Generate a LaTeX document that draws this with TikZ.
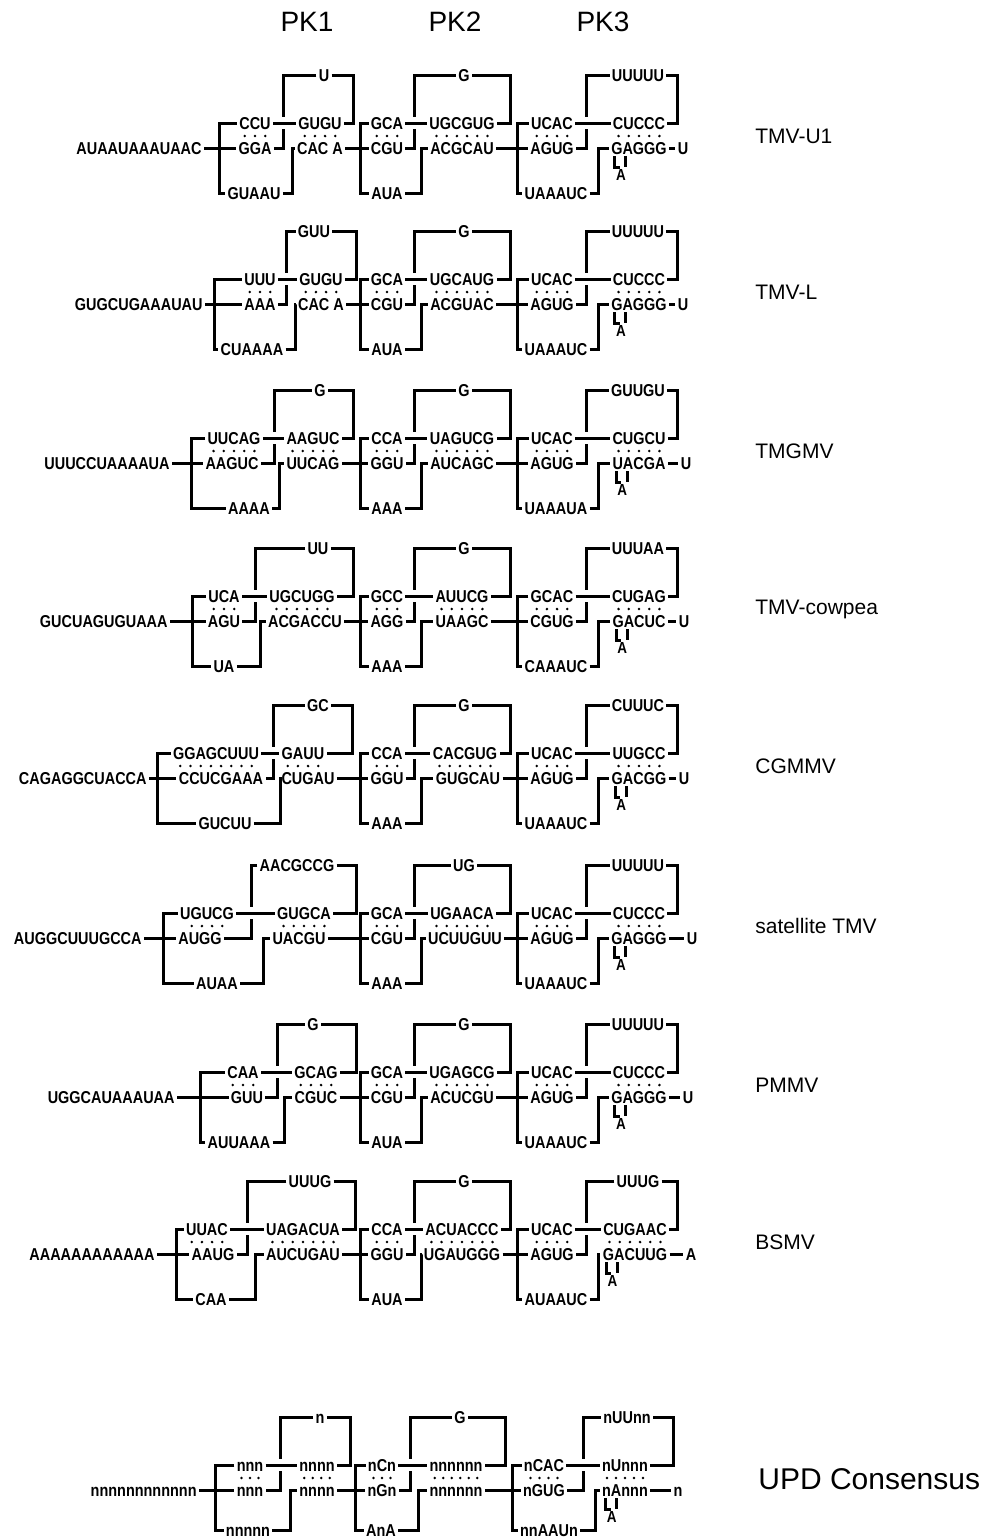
\documentclass[tikz,border=0pt]{standalone}
\usepackage{fontspec}
\setmainfont{Liberation Sans}
\newfontfamily\seqfont[FakeStretch=0.84]{Liberation Sans}
\usetikzlibrary{positioning}

% keys of one pseudoknot (PK2 and PK3 sit at the same place in every row)
\pgfkeys{/pk/.cd,
  y/.initial=0, low/.initial=45, xb/.initial=0, v1/.initial=0, v2/.initial=0, v3/.initial=0,
  c1/.initial=0, c1p/.initial=\pgfkeysvalueof{/pk/c1},
  c2/.initial=0, c2p/.initial=\pgfkeysvalueof{/pk/c2},
  cl/.initial=0, cw/.initial=0,
  na/.initial=3, nb/.initial=4, pitch/.initial=10.2, bulge/.initial=0,
  a/.initial=, ap/.initial=, l/.initial=, b/.initial=, bp/.initial=, w/.initial=,
  second/.style={xb=360, v1=414, v2=510, v3=421, c1=387, c2=462, cl=464, cw=387, na=3, nb=6},
  third/.style={xb=517, v1=586, v2=677, v3=598, c1=552, c2=639, cl=638, cw=556, na=4, nb=5, bulge=1}}
\newcommand{\pkv}[1]{\pgfkeysvalueof{/pk/#1}}

\newcommand{\pknot}[2]{%
  \begin{scope}
  \pgfkeys{/pk/.cd,#2}%
  \pgfmathsetmacro\yy{\pkv{y}}
  \pgfmathsetmacro\yt{\pkv{y}-25}
  \pgfmathsetmacro\yb{\pkv{y}+\pkv{low}}
  \pgfmathsetmacro\yl{\pkv{y}-73}
  \pgfmathtruncatemacro\na{\pkv{na}}
  \pgfmathtruncatemacro\nb{\pkv{nb}}
  \node[seq] (#1a) at (\pkv{c1},\yt) {\pkv{a}};
  \node[seq] (#1ap) at (\pkv{c1p},\yy) {\pkv{ap}};
  \node[seq] (#1l) at (\pkv{cl},\yl) {\pkv{l}};
  \node[seq] (#1b) at (\pkv{c2},\yt) {\pkv{b}};
  \node[seq] (#1bp) at (\pkv{c2p},\yy) {\pkv{bp}};
  \node[seq] (#1w) at (\pkv{cw},\yb) {\pkv{w}};
  % brackets
  \draw[ln] (#1a.west) -- (\pkv{xb},\yt) -- (\pkv{xb},\yb) -- (#1w.west);
  \draw[ln] (#1a) -- (#1b);
  \draw[ln] (#1l.west) -- (\pkv{v1},\yl) -- (\pkv{v1},\yt-6);
  \draw[ln] (\pkv{v1},\yt+6) -- (\pkv{v1},\yy) -- (#1ap.east);
  \draw[ln] (#1l.east) -- (\pkv{v2},\yl) -- (\pkv{v2},\yt) -- (#1b.east);
  \draw[ln] (#1w.east) -- (\pkv{v3},\yb) -- (\pkv{v3},\yy) -- (#1bp.west);
  % base pairs
  \foreach \i in {1,...,\na}
    \fill (\pkv{c1}+\i*\pkv{pitch}-\na*\pkv{pitch}/2-\pkv{pitch}/2,\yy-12) circle[radius=1.4];
  \foreach \i in {1,...,\nb}
    \fill (\pkv{c2}+\i*\pkv{pitch}-\nb*\pkv{pitch}/2-\pkv{pitch}/2,\yy-12) circle[radius=1.4];
  \ifnum\pkv{bulge}=1
    \draw[ln] ([shift={(6,8)}]#1bp.west) -- ++(0,11) -- ++(5,0);
    \draw[ln] ([shift={(17,8)}]#1bp.west) -- ++(0,11);
    \node[seq, font=\seqfont\bfseries\fontsize{8}{9}\selectfont] (#1x) at ([shift={(12,26)}]#1bp.west) {A};
  \fi
  \end{scope}}

\begin{document}
\begin{tikzpicture}[x=0.5pt, y=-0.5pt,
  seq/.style={font=\seqfont\bfseries\fontsize{8.6}{9.5}\selectfont, inner sep=1pt,
              text height=6.1pt, text depth=0pt},
  ln/.style={line width=1.5pt},
  tag/.style={font=\fontsize{10.5}{12}\selectfont, anchor=west, inner sep=0pt},
  head/.style={font=\fontsize{14}{16}\selectfont, inner sep=0pt}]
  \useasboundingbox (0,0) rectangle (984,1539);
  % headers
  \node[head] (h1) at (307,22) {PK1};
  \node[head] (h2) at (455,22) {PK2};
  \node[head] (h3) at (603,22) {PK3};

  % TMV-U1
  \node[seq, anchor=east] (r1in) at (204,148) {AUAAUAAAUAAC};
  \pknot{r1k1}{y=148, xb=219, v1=283, v2=353, v3=292, c1=255, c2=320, cl=324, cw=254, na=3, nb=4,
    a=CCU, ap=GGA, l=U, b=GUGU, bp=CAC A, w=GUAAU}
  \pknot{r1k2}{second, y=148, a=GCA, ap=CGU, l=G, b=UGCGUG, bp=ACGCAU, w=AUA}
  \pknot{r1k3}{third, y=148, a=UCAC, ap=AGUG, l=UUUUU, b=CUCCC, bp=GAGGG, w=UAAAUC}
  \node[seq] (r1out) at (683,148) {U};
  \draw[ln] (r1in) -- (r1k1ap); \draw[ln] (r1k1bp) -- (r1k2ap); \draw[ln] (r1k2bp) -- (r1k3ap); \draw[ln] (r1k3bp) -- (r1out);
  \node[tag] (r1name) at (755,136) {TMV-U1};

  % TMV-L
  \node[seq, anchor=east] (r2in) at (205,304) {GUGCUGAAAUAU};
  \pknot{r2k1}{y=304, xb=214, v1=286, v2=356, v3=295, c1=260, c2=321, cl=314, cw=252, na=3, nb=4,
    a=UUU, ap=AAA, l=GUU, b=GUGU, bp=CAC A, w=CUAAAA}
  \pknot{r2k2}{second, y=304, a=GCA, ap=CGU, l=G, b=UGCAUG, bp=ACGUAC, w=AUA}
  \pknot{r2k3}{third, y=304, a=UCAC, ap=AGUG, l=UUUUU, b=CUCCC, bp=GAGGG, w=UAAAUC}
  \node[seq] (r2out) at (683,304) {U};
  \draw[ln] (r2in) -- (r2k1ap); \draw[ln] (r2k1bp) -- (r2k2ap); \draw[ln] (r2k2bp) -- (r2k3ap); \draw[ln] (r2k3bp) -- (r2out);
  \node[tag] (r2name) at (755,292) {TMV-L};

  % TMGMV
  \node[seq, anchor=east] (r3in) at (172,463) {UUUCCUAAAAUA};
  \pknot{r3k1}{y=463, xb=191, v1=274, v2=353, v3=279, c1=234, c1p=232, c2=313, cl=320, cw=249, na=5, nb=5,
    a=UUCAG, ap=AAGUC, l=G, b=AAGUC, bp=UUCAG, w=AAAA}
  \pknot{r3k2}{second, y=463, a=CCA, ap=GGU, l=G, b=UAGUCG, bp=AUCAGC, w=AAA}
  \pknot{r3k3}{third, y=463, a=UCAC, ap=AGUG, l=GUUGU, b=CUGCU, bp=UACGA, w=UAAAUA}
  \node[seq] (r3out) at (686,463) {U};
  \draw[ln] (r3in) -- (r3k1ap); \draw[ln] (r3k1bp) -- (r3k2ap); \draw[ln] (r3k2bp) -- (r3k3ap); \draw[ln] (r3k3bp) -- (r3out);
  \node[tag] (r3name) at (755,451) {TMGMV};

  % TMV-cowpea
  \node[seq, anchor=east] (r4in) at (170,621) {GUCUAGUGUAAA};
  \pknot{r4k1}{y=621, xb=192, v1=255, v2=353, v3=260, c1=224, c2=302, c2p=305, cl=318, cw=224, na=3, nb=6,
    a=UCA, ap=AGU, l=UU, b=UGCUGG, bp=ACGACCU, w=UA}
  \pknot{r4k2}{second, y=621, nb=5, a=GCC, ap=AGG, l=G, b=AUUCG, bp=UAAGC, w=AAA}
  \pknot{r4k3}{third, y=621, a=GCAC, ap=CGUG, l=UUUAA, b=CUGAG, bp=GACUC, w=CAAAUC}
  \node[seq] (r4out) at (684,621) {U};
  \draw[ln] (r4in) -- (r4k1ap); \draw[ln] (r4k1bp) -- (r4k2ap); \draw[ln] (r4k2bp) -- (r4k3ap); \draw[ln] (r4k3bp) -- (r4out);
  \node[tag] (r4name) at (755,609) {TMV-cowpea};

  % CGMMV
  \node[seq, anchor=east] (r5in) at (149,778) {CAGAGGCUACCA};
  \pknot{r5k1}{y=778, xb=157, v1=273, v2=352, v3=280, c1=216, c1p=221, c2=303, c2p=308, cl=318, cw=225, na=8, nb=4,
    a=GGAGCUUU, ap=CCUCGAAA, l=GC, b=GAUU, bp=CUGAU, w=GUCUU}
  \pknot{r5k2}{second, y=778, c2=465, c2p=468, a=CCA, ap=GGU, l=G, b=CACGUG, bp=GUGCAU, w=AAA}
  \pknot{r5k3}{third, y=778, a=UCAC, ap=AGUG, l=CUUUC, b=UUGCC, bp=GACGG, w=UAAAUC}
  \node[seq] (r5out) at (684,778) {U};
  \draw[ln] (r5in) -- (r5k1ap); \draw[ln] (r5k1bp) -- (r5k2ap); \draw[ln] (r5k2bp) -- (r5k3ap); \draw[ln] (r5k3bp) -- (r5out);
  \node[tag] (r5name) at (755,766) {CGMMV};

  % satellite TMV
  \node[seq, anchor=east] (r6in) at (144,938) {AUGGCUUUGCCA};
  \pknot{r6k1}{y=938, xb=163, v1=251, v2=356, v3=263, c1=207, c1p=200, c2=304, c2p=299, cl=297, cw=217, na=4, nb=5,
    a=UGUCG, ap=AUGG, l=AACGCCG, b=GUGCA, bp=UACGU, w=AUAA}
  \pknot{r6k2}{second, y=938, c2p=465, a=GCA, ap=CGU, l=UG, b=UGAACA, bp=UCUUGUU, w=AAA}
  \pknot{r6k3}{third, y=938, a=UCAC, ap=AGUG, l=UUUUU, b=CUCCC, bp=GAGGG, w=UAAAUC}
  \node[seq] (r6out) at (692,938) {U};
  \draw[ln] (r6in) -- (r6k1ap); \draw[ln] (r6k1bp) -- (r6k2ap); \draw[ln] (r6k2bp) -- (r6k3ap); \draw[ln] (r6k3bp) -- (r6out);
  \node[tag] (r6name) at (755,926) {satellite TMV};

  % PMMV
  \node[seq, anchor=east] (r7in) at (177,1097) {UGGCAUAAAUAA};
  \pknot{r7k1}{y=1097, xb=200, v1=277, v2=356, v3=284, c1=243, c1p=247, c2=316, cl=313, cw=239, na=3, nb=4,
    a=CAA, ap=GUU, l=G, b=GCAG, bp=CGUC, w=AUUAAA}
  \pknot{r7k2}{second, y=1097, a=GCA, ap=CGU, l=G, b=UGAGCG, bp=ACUCGU, w=AUA}
  \pknot{r7k3}{third, y=1097, a=UCAC, ap=AGUG, l=UUUUU, b=CUCCC, bp=GAGGG, w=UAAAUC}
  \node[seq] (r7out) at (688,1097) {U};
  \draw[ln] (r7in) -- (r7k1ap); \draw[ln] (r7k1bp) -- (r7k2ap); \draw[ln] (r7k2bp) -- (r7k3ap); \draw[ln] (r7k3bp) -- (r7out);
  \node[tag] (r7name) at (755,1085) {PMMV};

  % BSMV
  \node[seq, anchor=east] (r8in) at (157,1254) {AAAAAAAAAAAA};
  \pknot{r8k1}{y=1254, xb=176, v1=247, v2=355, v3=255, c1=207, c1p=213, c2=303, cl=310, cw=211, na=4, nb=7,
    a=UUAC, ap=AAUG, l=UUUG, b=UAGACUA, bp=AUCUGAU, w=CAA}
  \pknot{r8k2}{second, y=1254, nb=7, a=CCA, ap=GGU, l=G, b=ACUACCC, bp=UGAUGGG, w=AUA}
  \pknot{r8k3}{third, y=1254, c2=635, nb=6, a=UCAC, ap=AGUG, l=UUUG, b=CUGAAC, bp=GACUUG, w=AUAAUC}
  \node[seq] (r8out) at (691,1254) {A};
  \draw[ln] (r8in) -- (r8k1ap); \draw[ln] (r8k1bp) -- (r8k2ap); \draw[ln] (r8k2bp) -- (r8k3ap); \draw[ln] (r8k3bp) -- (r8out);
  \node[tag] (r8name) at (755,1242) {BSMV};

  % UPD consensus
  \node[seq, anchor=east] (r9in) at (199,1490) {nnnnnnnnnnnn};
  \pknot{r9k1}{y=1490, low=40, xb=215, v1=280, v2=350, v3=290, c1=250, c2=317, cl=320, cw=248, na=3, nb=4, pitch=8.5,
    a=nnn, ap=nnn, l=n, b=nnnn, bp=nnnn, w=nnnnn}
  \pknot{r9k2}{second, y=1490, low=40, xb=355, v1=410, v2=505, v3=418, c1=382, c2=456, cl=460, cw=381, pitch=8.5,
    a=nCn, ap=nGn, l=G, b=nnnnnn, bp=nnnnnn, w=AnA}
  \pknot{r9k3}{third, y=1490, low=40, xb=512, v1=583, v2=673, v3=595, c1=544, c2=625, cl=627, cw=549, pitch=9,
    a=nCAC, ap=nGUG, l=nUUnn, b=nUnnn, bp=nAnnn, w=nnAAUn}
  \node[seq] (r9out) at (678,1490) {n};
  \draw[ln] (r9in) -- (r9k1ap); \draw[ln] (r9k1bp) -- (r9k2ap); \draw[ln] (r9k2bp) -- (r9k3ap); \draw[ln] (r9k3bp) -- (r9out);
  \node[tag, font=\fontsize{15}{17}\selectfont] (r9name) at (758,1479) {UPD Consensus};
\end{tikzpicture}
\end{document}
